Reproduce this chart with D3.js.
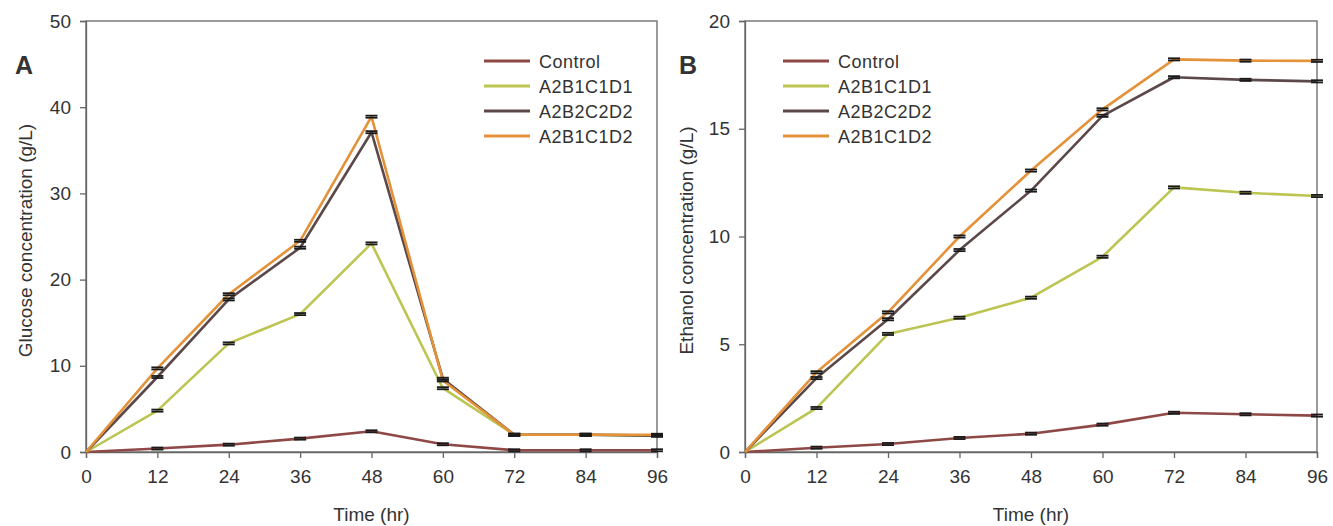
<!DOCTYPE html>
<html>
<head>
<meta charset="utf-8">
<script src="https://cdn.jsdelivr.net/npm/d3@7"></script>
<style>
  html, body { margin: 0; padding: 0; background: #fff; }
  svg { display: block; }
  text { font-family: "Liberation Sans", Arial, sans-serif; fill: #333; }
</style>
</head>
<body>
<svg id="chart" width="1333" height="526"></svg>
<script>
// ---- data ----
const hours = [0, 12, 24, 36, 48, 60, 72, 84, 96];
const xTicks = [0, 12, 24, 36, 48, 60, 72, 84, 96];
const seriesNames = ["Control", "A2B1C1D1", "A2B2C2D2", "A2B1C1D2"];

// Panel A: glucose (g/L)
const glucoseControl  = [0, 0.4, 0.85, 1.55, 2.4, 0.9, 0.2, 0.2, 0.2];
const glucoseA2B1C1D1 = [0, 4.8, 12.6, 16.0, 24.2, 7.4, 2.0, 2.0, 1.9];
const glucoseA2B2C2D2 = [0, 8.7, 17.7, 23.7, 37.1, 8.5, 2.0, 2.0, 1.9];
const glucoseA2B1C1D2 = [0, 9.7, 18.3, 24.5, 38.9, 8.3, 2.0, 2.0, 2.0];
const glucoseTicks = [0, 10, 20, 30, 40, 50];

// Panel B: ethanol (g/L)
const ethanolControl  = [0, 0.2, 0.37, 0.65, 0.85, 1.27, 1.82, 1.75, 1.69];
const ethanolA2B1C1D1 = [0, 2.04, 5.48, 6.23, 7.16, 9.06, 12.28, 12.03, 11.88];
const ethanolA2B2C2D2 = [0, 3.43, 6.16, 9.37, 12.13, 15.6, 17.39, 17.27, 17.2];
const ethanolA2B1C1D2 = [0, 3.7, 6.48, 10.0, 13.06, 15.9, 18.22, 18.16, 18.15];
const ethanolTicks = [0, 5, 10, 15, 20];

// error bar half-widths (small, read as caps around points)
const glucoseErr = 0.12;
const ethanolErr = 0.05;

const colors = ["#8e4846", "#bcc552", "#5c4849", "#e4923a"];

const svg = d3.select("#chart");

function panel(opts) {
  const { left, right, top, bottom, yMax, yTicks, series, err, yTitle, letter, letterX, legendX, titleX } = opts;
  const x = d3.scaleLinear().domain([0, 96]).range([left, right]);
  const y = d3.scaleLinear().domain([0, yMax]).range([bottom, top]);
  const g = svg.append("g");

  // frame
  g.append("rect").attr("x", left).attr("y", top)
    .attr("width", right - left).attr("height", bottom - top)
    .attr("fill", "none").attr("stroke", "#666").attr("stroke-width", 1.3);

  // axes
  const ax = g.append("g").attr("transform", `translate(0,${bottom})`)
    .call(d3.axisBottom(x).tickValues(xTicks).tickSize(6).tickPadding(12).tickFormat(d3.format("d")));
  const ay = g.append("g").attr("transform", `translate(${left},0)`)
    .call(d3.axisLeft(y).tickValues(yTicks).tickSize(6).tickPadding(9).tickFormat(d3.format("d")));
  [ax, ay].forEach(a => {
    a.select(".domain").attr("stroke", "#666").attr("stroke-width", 1.3);
    a.selectAll(".tick line").attr("stroke", "#666").attr("stroke-width", 1.3);
    a.selectAll(".tick text").attr("font-size", 19).attr("fill", "#333")
      .attr("font-family", '"Liberation Sans", Arial, sans-serif');
  });

  // lines
  const line = d3.line().x((d, i) => x(hours[i])).y(d => y(d));
  series.forEach((s, k) => {
    g.append("path").datum(s).attr("d", line)
      .attr("fill", "none").attr("stroke", colors[k]).attr("stroke-width", 2.6)
      .attr("stroke-linejoin", "round");
  });
  // error caps
  series.forEach((s, k) => {
    s.forEach((v, i) => {
      if (hours[i] === 0) return;
      const cx = x(hours[i]);
      [v + err, v - err].forEach(e => {
        g.append("line").attr("x1", cx - 6).attr("x2", cx + 6)
          .attr("y1", y(e)).attr("y2", y(e))
          .attr("stroke", "#1a1a1a").attr("stroke-width", 1.8);
      });
    });
  });

  // legend
  const rows = [61, 86, 111, 136];
  seriesNames.forEach((n, k) => {
    g.append("line").attr("x1", legendX).attr("x2", legendX + 46)
      .attr("y1", rows[k]).attr("y2", rows[k])
      .attr("stroke", colors[k]).attr("stroke-width", 2.8);
    g.append("text").attr("x", legendX + 55).attr("y", rows[k] + 6.5)
      .attr("font-size", 18).attr("letter-spacing", "0.5px").text(n);
  });

  // axis titles
  g.append("text").attr("x", (left + right) / 2).attr("y", 521)
    .attr("text-anchor", "middle").attr("font-size", 19).text("Time (hr)");
  g.append("text").attr("transform", `translate(${titleX},${(top + bottom) / 2 + 4}) rotate(-90)`)
    .attr("text-anchor", "middle").attr("font-size", 19).text(yTitle);

  // panel letter
  g.append("text").attr("x", letterX).attr("y", 74)
    .attr("font-size", 25).attr("font-weight", "bold").attr("fill", "#111").text(letter);
}

panel({
  left: 86, right: 657, top: 21, bottom: 452, yMax: 50, yTicks: glucoseTicks,
  series: [glucoseControl, glucoseA2B1C1D1, glucoseA2B2C2D2, glucoseA2B1C1D2],
  err: glucoseErr, yTitle: "Glucose concentration (g/L)", letter: "A", letterX: 15,
  legendX: 484, titleX: 32
});
panel({
  left: 745, right: 1317, top: 21, bottom: 452, yMax: 20, yTicks: ethanolTicks,
  series: [ethanolControl, ethanolA2B1C1D1, ethanolA2B2C2D2, ethanolA2B1C1D2],
  err: ethanolErr, yTitle: "Ethanol concentration (g/L)", letter: "B", letterX: 679,
  legendX: 783, titleX: 693
});
</script>
</body>
</html>
